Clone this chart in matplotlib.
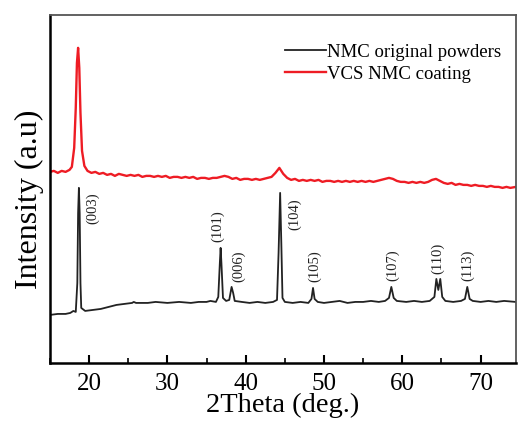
import matplotlib
matplotlib.use('Agg')
import matplotlib.pyplot as plt
from matplotlib.ticker import MultipleLocator

plt.rcParams['font.family'] = ['Liberation Serif', 'DejaVu Serif']

# NMC original powders (black)
x_nmc = [15.0, 16.0, 17.0, 17.6, 18.0, 18.3, 18.5, 18.6, 18.7, 18.8, 18.9, 19.0, 19.5,
         20.5, 21.5, 22.5, 23.5, 24.5, 25.5, 25.7, 26.0, 27.5, 28.5, 30.0, 31.5, 33.0,
         34.0, 35.0, 35.5, 36.2, 36.5, 36.7, 36.8, 36.9, 37.1, 37.5, 37.9, 38.2, 38.4,
         38.6, 39.5, 40.5, 41.5, 42.5, 43.5, 44.0, 44.2, 44.4, 44.55, 44.7, 45.0, 46.0,
         47.0, 48.0, 48.4, 48.6, 48.8, 49.2, 50.0, 51.0, 52.0, 53.0, 54.0, 55.0, 56.0,
         57.0, 57.8, 58.3, 58.6, 58.9, 59.3, 60.5, 61.5, 62.5, 63.5, 64.1, 64.35, 64.6,
         64.85, 65.1, 65.5, 66.5, 67.5, 68.0, 68.3, 68.6, 69.0, 70.0, 71.0, 72.0, 73.0,
         74.5]
y_nmc = [48, 49, 49, 50, 52, 51, 80, 150, 175, 150, 80, 55, 52,
         53, 54, 56, 58, 59, 60, 61, 60, 60, 61, 60, 61, 60,
         61, 61, 62, 61, 66, 100, 115, 100, 65, 62, 63, 76, 70,
         62, 61, 60, 61, 60, 61, 63, 110, 170, 120, 65, 61, 60,
         61, 60, 64, 75, 64, 61, 60, 61, 62, 60, 61, 61, 62,
         61, 62, 65, 76, 65, 62, 61, 62, 61, 62, 66, 84, 73,
         84, 66, 62, 61, 62, 64, 76, 64, 62, 61, 62, 61, 62,
         61]

# VCS NMC coating (red)
x_vcs = [15.0, 15.5, 16.0, 16.5, 17.0, 17.5, 17.8, 18.1, 18.3, 18.45, 18.6, 18.75, 18.9,
         19.1, 19.4, 19.8, 20.3, 20.8, 21.3, 21.8, 22.3, 22.8, 23.3, 23.8, 24.3, 24.8,
         25.3, 25.8, 26.3, 26.8, 27.3, 27.8, 28.3, 28.8, 29.3, 29.8, 30.3, 30.8, 31.3,
         31.8, 32.3, 32.8, 33.3, 33.8, 34.3, 34.8, 35.3, 35.8, 36.3, 36.8, 37.3, 37.8,
         38.3, 38.8, 39.3, 39.8, 40.3, 40.8, 41.3, 41.8, 42.3, 42.8, 43.3, 43.8, 44.3,
         44.8, 45.3, 45.8, 46.3, 46.8, 47.3, 47.8, 48.3, 48.8, 49.3, 49.8, 50.3, 50.8,
         51.3, 51.8, 52.3, 52.8, 53.3, 53.8, 54.3, 54.8, 55.3, 55.8, 56.3, 56.8, 57.3,
         57.8, 58.3, 58.8, 59.3, 59.8, 60.3, 60.8, 61.3, 61.8, 62.3, 62.8, 63.3, 63.8,
         64.3, 64.8, 65.3, 65.8, 66.3, 66.8, 67.3, 67.8, 68.3, 68.8, 69.3, 69.8, 70.3,
         70.8, 71.3, 71.8, 72.3, 72.8, 73.3, 73.8, 74.5]
y_vcs = [191, 192, 190, 192, 191, 193, 196, 215, 255, 300, 315, 295, 250,
         212, 197, 192, 190, 191, 189, 190, 188, 189, 187, 189, 188, 187,
         188, 187, 188, 186, 187, 187, 186, 187, 186, 187, 185, 186, 186,
         185, 186, 185, 186, 184, 185, 185, 184, 185, 185, 186, 187, 186,
         184, 185, 183, 184, 184, 183, 184, 183, 184, 185, 186, 190, 195,
         189, 185, 183, 184, 182, 183, 182, 183, 182, 183, 181, 182, 182,
         181, 182, 181, 182, 181, 182, 181, 182, 181, 182, 181, 182, 183,
         184, 185, 184, 182, 181, 181, 180, 181, 180, 181, 180, 181, 183,
         184, 182, 180, 179, 180, 178, 179, 178, 178, 177, 178, 177, 177,
         176, 177, 176, 176, 175, 176, 175, 176]

# peak labels (text position)
peak_names = ['(003)', '(101)', '(006)', '(104)', '(105)', '(107)', '(110)', '(113)']
peak_x = [20.5, 36.45, 39.1, 46.2, 48.8, 58.8, 64.55, 68.4]
peak_y = [155, 137, 97, 149, 97, 98, 105, 98]

fig = plt.figure(figsize=(5.2, 4.24), dpi=100)
ax = fig.add_axes([0.096, 0.144, 0.896, 0.821])

ax.plot(x_nmc, y_nmc, color='#222222', lw=1.3, label='NMC original powders')
ax.plot(x_vcs, y_vcs, color='#ee1c24', lw=1.7, label='VCS NMC coating')

for name, px, py in zip(peak_names, peak_x, peak_y):
    ax.text(px, py, name, rotation=90, ha='center', va='center', fontsize=10.5, color='#222222')

ax.set_xlim(15, 74.5)
ax.set_ylim(0, 348)
ax.set_yticks([])
ax.xaxis.set_major_locator(MultipleLocator(10))
ax.xaxis.set_minor_locator(MultipleLocator(5))
ax.tick_params(axis='x', which='major', direction='in', length=6, width=1.5, labelsize=18, pad=7, top=False)
ax.tick_params(axis='x', which='minor', direction='in', length=3.5, width=1.2, top=False)
for s in ['bottom', 'left']:
    ax.spines[s].set_linewidth(1.8)
for s in ['top', 'right']:
    ax.spines[s].set_linewidth(1.3)
    ax.spines[s].set_color('#555555')

ax.set_xlabel('2Theta (deg.)', fontsize=20.5, labelpad=-1)
ax.set_ylabel('Intensity (a.u)', fontsize=23)
ax.yaxis.set_label_coords(-0.013, 0.47)

ax.legend(loc='upper left', bbox_to_anchor=(0.504, 0.917), frameon=False, fontsize=13.5,
          handlelength=2.2, handletextpad=0.05, borderpad=0, borderaxespad=0, labelspacing=0.25)

fig.savefig('out.png', dpi=100)
